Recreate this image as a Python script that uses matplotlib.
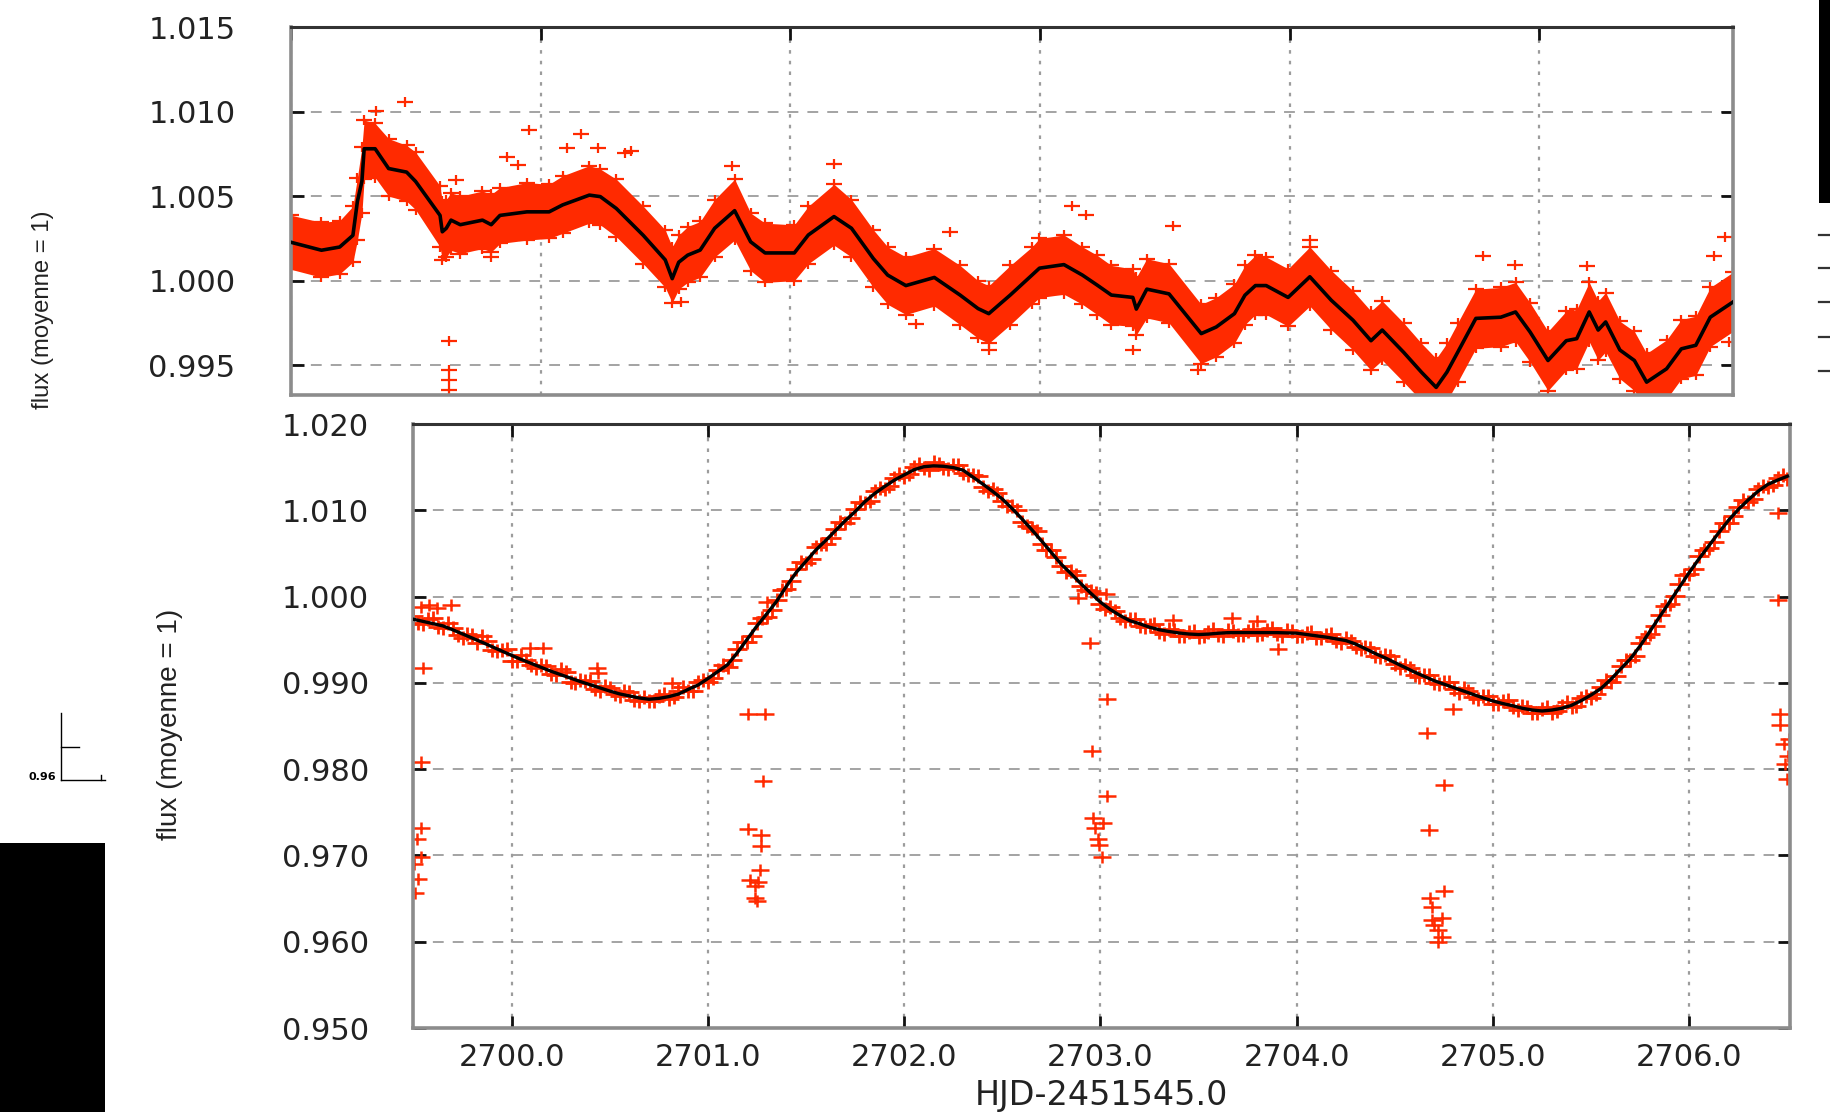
import numpy as np
import matplotlib
matplotlib.use("Agg")
import matplotlib.pyplot as plt
from matplotlib.path import Path
from matplotlib.patches import Rectangle
from matplotlib import font_manager

# ---------------- data: upper panel (long light curve) ----------------
top_t = [2640.00, 2641.22, 2641.95, 2642.48, 2642.66, 2642.84, 2642.93, 2643.37, 2643.91, 2644.63,
         2644.99, 2645.97, 2646.06, 2646.22, 2646.41, 2646.78, 2647.67, 2648.02, 2648.37, 2649.45,
         2650.34, 2650.88, 2651.95, 2652.39, 2653.03, 2654.11, 2654.99, 2655.27, 2655.53, 2655.89,
         2656.39, 2656.97, 2657.77, 2658.41, 2658.99, 2660.16, 2660.72, 2661.75, 2662.45, 2663.33,
         2663.90, 2664.63, 2665.77, 2666.80, 2667.52, 2667.95, 2668.81, 2669.68, 2669.98, 2670.96,
         2671.70, 2672.29, 2672.86, 2673.72, 2673.86, 2674.28, 2675.17, 2676.46, 2677.06, 2677.79,
         2678.21, 2678.63, 2679.06, 2679.94, 2680.81, 2681.67, 2682.54, 2683.26, 2683.71, 2684.57,
         2685.28, 2685.87, 2686.30, 2686.73, 2687.46, 2688.46, 2689.05, 2689.63, 2690.35, 2691.08,
         2691.50, 2692.00, 2692.36, 2692.66, 2693.23, 2693.81, 2694.30, 2695.10, 2695.69, 2696.27,
         2696.85, 2697.76]
top_curve = [1.00227, 1.00180, 1.00199, 1.00268, 1.00469, 1.00587, 1.00780, 1.00780, 1.00663, 1.00642,
             1.00587, 1.00386, 1.00289, 1.00310, 1.00358, 1.00331, 1.00358, 1.00331, 1.00386, 1.00407,
             1.00407, 1.00448, 1.00506, 1.00497, 1.00427, 1.00268, 1.00123, 1.00012, 1.00109, 1.00151,
             1.00181, 1.00310, 1.00414, 1.00230, 1.00164, 1.00164, 1.00270, 1.00379, 1.00310, 1.00130,
             1.00033, 0.99971, 1.00019, 0.99915, 0.99835, 0.99805, 0.99915, 1.00033, 1.00074, 1.00095,
             1.00033, 0.99974, 0.99915, 0.99901, 0.99832, 0.99950, 0.99922, 0.99687, 0.99726, 0.99805,
             0.99914, 0.99971, 0.99971, 0.99901, 1.00023, 0.99884, 0.99766, 0.99645, 0.99708, 0.99576,
             0.99459, 0.99369, 0.99459, 0.99576, 0.99777, 0.99784, 0.99815, 0.99697, 0.99528, 0.99645,
             0.99657, 0.99815, 0.99708, 0.99756, 0.99590, 0.99528, 0.99400, 0.99479, 0.99597, 0.99618,
             0.99784, 0.99874]
top_hi = [1.00387, 1.00345, 1.00355, 1.00440, 1.00610, 1.00790, 1.00950, 1.00930, 1.00840, 1.00800,
          1.00760, 1.00560, 1.00470, 1.00480, 1.00520, 1.00500, 1.00530, 1.00510, 1.00550, 1.00580,
          1.00570, 1.00620, 1.00680, 1.00660, 1.00600, 1.00440, 1.00300, 1.00200, 1.00270, 1.00320,
          1.00350, 1.00480, 1.00600, 1.00400, 1.00340, 1.00330, 1.00440, 1.00570, 1.00480, 1.00300,
          1.00200, 1.00140, 1.00190, 1.00090, 1.00000, 0.99970, 1.00090, 1.00200, 1.00250, 1.00270,
          1.00200, 1.00150, 1.00090, 1.00070, 1.00020, 1.00130, 1.00100, 0.99860, 0.99900, 0.99980,
          1.00090, 1.00150, 1.00140, 1.00070, 1.00200, 1.00060, 0.99940, 0.99820, 0.99880, 0.99750,
          0.99630, 0.99540, 0.99630, 0.99750, 0.99950, 0.99960, 0.99990, 0.99870, 0.99700, 0.99820,
          0.99830, 0.99990, 0.99880, 0.99930, 0.99760, 0.99700, 0.99570, 0.99650, 0.99770, 0.99790,
          0.99960, 1.00050]
top_lo = [1.00067, 1.00020, 1.00040, 1.00110, 1.00240, 1.00400, 1.00600, 1.00610, 1.00500, 1.00470,
          1.00420, 1.00200, 1.00120, 1.00140, 1.00180, 1.00160, 1.00190, 1.00170, 1.00220, 1.00240,
          1.00250, 1.00280, 1.00340, 1.00330, 1.00260, 1.00100, 0.99960, 0.99870, 0.99950, 0.99990,
          1.00020, 1.00140, 1.00240, 1.00060, 0.99990, 1.00000, 1.00100, 1.00210, 1.00140, 0.99960,
          0.99860, 0.99800, 0.99850, 0.99740, 0.99660, 0.99630, 0.99740, 0.99860, 0.99900, 0.99920,
          0.99860, 0.99800, 0.99740, 0.99730, 0.99680, 0.99780, 0.99750, 0.99510, 0.99550, 0.99630,
          0.99740, 0.99800, 0.99800, 0.99730, 0.99850, 0.99710, 0.99590, 0.99470, 0.99530, 0.99400,
          0.99290, 0.99200, 0.99290, 0.99400, 0.99600, 0.99610, 0.99640, 0.99520, 0.99350, 0.99470,
          0.99480, 0.99640, 0.99530, 0.99580, 0.99420, 0.99350, 0.99230, 0.99300, 0.99420, 0.99440,
          0.99610, 0.99700]
top_out_t = [2646.31, 2646.31, 2646.31, 2646.31, 2644.58, 2643.41, 2649.54, 2651.60, 2652.30, 2653.61,
             2657.68, 2661.75, 2671.29, 2671.85, 2675.31, 2666.38, 2665.02, 2676.34, 2673.72, 2687.76,
             2689.02, 2691.92, 2697.44, 2697.00, 2680.81, 2655.62, 2697.58, 2667.95, 2648.65, 2649.10,
             2651.06, 2653.38, 2646.60, 2648.02]
top_out_f = [0.99645, 0.99473, 0.99410, 0.99355, 1.01057, 1.01002, 1.00891, 1.00870, 1.00787, 1.00766,
             1.00677, 1.00690, 1.00441, 1.00386, 1.00324, 1.00289, 0.99742, 0.99472, 0.99590, 1.00144,
             1.00095, 1.00088, 1.00261, 1.00144, 1.00241, 0.99874, 0.99639, 0.99590, 1.00734, 1.00684,
             1.00783, 1.00753, 1.00596, 1.00141]
top_yticks = [0.995, 1.000, 1.005, 1.010, 1.015]
top_xticks = [2640, 2650, 2660, 2670, 2680, 2690]

# ---------------- data: lower panel (zoom on 2699.5 - 2706.5) ----------------
lo_t = np.round(np.arange(2699.50, 2706.501, 0.05), 3)
lo_t2 = np.round(np.arange(2699.525, 2706.49, 0.05), 3)
lo_curve = [0.99737, 0.99712, 0.99686, 0.99660, 0.99615, 0.99567, 0.99519, 0.99470, 0.99419, 0.99369,
            0.99318, 0.99270, 0.99225, 0.99180, 0.99135, 0.99095, 0.99055, 0.99015, 0.98978, 0.98942,
            0.98905, 0.98872, 0.98848, 0.98825, 0.98810, 0.98820, 0.98840, 0.98870, 0.98925, 0.98975,
            0.99050, 0.99130, 0.99210, 0.99350, 0.99505, 0.99660, 0.99800, 0.99945, 1.00120, 1.00280,
            1.00410, 1.00540, 1.00650, 1.00765, 1.00880, 1.00985, 1.01100, 1.01195, 1.01275, 1.01350,
            1.01410, 1.01470, 1.01505, 1.01515, 1.01510, 1.01495, 1.01465, 1.01385, 1.01305, 1.01220,
            1.01130, 1.01020, 1.00900, 1.00775, 1.00645, 1.00510, 1.00375, 1.00265, 1.00150, 1.00040,
            0.99935, 0.99850, 0.99780, 0.99720, 0.99685, 0.99645, 0.99615, 0.99595, 0.99578, 0.99566,
            0.99560, 0.99565, 0.99575, 0.99582, 0.99583, 0.99583, 0.99583, 0.99583, 0.99582, 0.99579,
            0.99576, 0.99560, 0.99545, 0.99530, 0.99510, 0.99490, 0.99450, 0.99395, 0.99340, 0.99290,
            0.99235, 0.99180, 0.99125, 0.99075, 0.99025, 0.98985, 0.98945, 0.98905, 0.98865, 0.98825,
            0.98790, 0.98760, 0.98735, 0.98705, 0.98685, 0.98674, 0.98685, 0.98705, 0.98740, 0.98795,
            0.98860, 0.98935, 0.99040, 0.99160, 0.99280, 0.99430, 0.99600, 0.99770, 0.99940, 1.00110,
            1.00280, 1.00440, 1.00590, 1.00740, 1.00885, 1.01010, 1.01120, 1.01220, 1.01300, 1.01350,
            1.01395]
lo_red = [0.99777, 0.99682, 0.99746, 0.99640, 0.99635, 0.99517, 0.99549, 0.99540, 0.99379, 0.99379,
          0.99258, 0.99320, 0.99205, 0.99210, 0.99105, 0.99155, 0.99005, 0.99035, 0.99018, 0.98902,
          0.98935, 0.98842, 0.98898, 0.98785, 0.98790, 0.98850, 0.98810, 0.98910, 0.98905, 0.99005,
          0.99010, 0.99150, 0.99180, 0.99390, 0.99475, 0.99690, 0.99760, 0.99965, 1.00090, 1.00320,
          1.00390, 1.00570, 1.00610, 1.00785, 1.00850, 1.01015, 1.01080, 1.01225, 1.01245, 1.01370,
          1.01390, 1.01500, 1.01485, 1.01555, 1.01490, 1.01525, 1.01435, 1.01405, 1.01275, 1.01250,
          1.01110, 1.01050, 1.00870, 1.00795, 1.00615, 1.00540, 1.00355, 1.00295, 1.00120, 1.00060,
          0.99915, 0.99880, 0.99750, 0.99740, 0.99655, 0.99675, 0.99595, 0.99625, 0.99548, 0.99586,
          0.99530, 0.99595, 0.99555, 0.99612, 0.99553, 0.99603, 0.99553, 0.99613, 0.99562, 0.99609,
          0.99546, 0.99580, 0.99515, 0.99560, 0.99490, 0.99520, 0.99420, 0.99415, 0.99310, 0.99320,
          0.99215, 0.99210, 0.99095, 0.99095, 0.98995, 0.99015, 0.98925, 0.98935, 0.98835, 0.98845,
          0.98760, 0.98790, 0.98715, 0.98735, 0.98655, 0.98694, 0.98655, 0.98735, 0.98720, 0.98825,
          0.98830, 0.98955, 0.99010, 0.99190, 0.99260, 0.99460, 0.99570, 0.99790, 0.99910, 1.00140,
          1.00260, 1.00470, 1.00560, 1.00760, 1.00855, 1.01040, 1.01100, 1.01250, 1.01270, 1.01370,
          1.01365]
lo_red2 = [0.99695, 0.99739, 0.99653, 0.99688, 0.99551, 0.99563, 0.99465, 0.99485, 0.99374, 0.99394,
           0.99254, 0.99268, 0.99173, 0.99198, 0.99095, 0.99125, 0.98995, 0.99017, 0.98930, 0.98964,
           0.98869, 0.98910, 0.98797, 0.98838, 0.98785, 0.98870, 0.98835, 0.98948, 0.98910, 0.99033,
           0.99060, 0.99210, 0.99260, 0.99478, 0.99543, 0.99750, 0.99843, 1.00073, 1.00180, 1.00395,
           1.00435, 1.00615, 1.00678, 1.00863, 1.00913, 1.01093, 1.01108, 1.01255, 1.01283, 1.01420,
           1.01420, 1.01538, 1.01470, 1.01533, 1.01473, 1.01520, 1.01405, 1.01395, 1.01223, 1.01195,
           1.01045, 1.01000, 1.00818, 1.00760, 1.00538, 1.00463, 1.00290, 1.00248, 1.00075, 1.00038,
           0.99853, 0.99835, 0.99720, 0.99743, 0.99645, 0.99680, 0.99565, 0.99607, 0.99542, 0.99603,
           0.99543, 0.99620, 0.99539, 0.99603, 0.99553, 0.99623, 0.99563, 0.99633, 0.99541, 0.99598,
           0.99538, 0.99593, 0.99518, 0.99570, 0.99460, 0.99490, 0.99393, 0.99408, 0.99295, 0.99313,
           0.99168, 0.99173, 0.99070, 0.99090, 0.98985, 0.99015, 0.98885, 0.98905, 0.98815, 0.98848,
           0.98755, 0.98798, 0.98680, 0.98715, 0.98650, 0.98720, 0.98675, 0.98773, 0.98728, 0.98848,
           0.98868, 0.99028, 0.99080, 0.99270, 0.99315, 0.99535, 0.99655, 0.99895, 1.00005, 1.00245,
           1.00320, 1.00535, 1.00635, 1.00853, 1.00928, 1.01115, 1.01130, 1.01280, 1.01295, 1.01413]
lo_out_t = [2699.54, 2699.58, 2699.62, 2699.69, 2699.55, 2699.536, 2699.536, 2699.519, 2699.536, 2699.505,
            2699.525, 2699.508, 2700.093, 2700.16, 2700.433, 2700.44, 2700.815, 2701.205, 2701.29, 2701.282,
            2701.205, 2701.273, 2701.273, 2701.265, 2701.214, 2701.256, 2701.24, 2701.239, 2701.248, 2701.30,
            2702.886, 2703.029, 2702.946, 2703.031, 2702.955, 2703.031, 2702.963, 2703.014, 2702.972, 2702.989,
            2702.99, 2703.006, 2703.37, 2703.668, 2703.796, 2703.906, 2704.797, 2704.665, 2704.75, 2704.674,
            2704.75, 2704.679, 2704.691, 2704.69, 2704.74, 2704.70, 2704.72, 2704.74, 2704.72, 2706.451,
            2706.451, 2706.46, 2706.46, 2706.51, 2706.48, 2706.505, 2706.49, 2706.50]
lo_out_f = [0.99880, 0.99905, 0.99870, 0.99900, 0.99177, 0.98077, 0.97323, 0.97196, 0.96976, 0.96906,
            0.96724, 0.96570, 0.99409, 0.99409, 0.99170, 0.99120, 0.98995, 0.98636, 0.98637, 0.97863,
            0.97304, 0.97234, 0.97110, 0.96832, 0.96716, 0.96693, 0.96640, 0.96512, 0.96473, 0.99934,
            0.99988, 1.00027, 0.99467, 0.98818, 0.98211, 0.97683, 0.97439, 0.97373, 0.97315, 0.97196,
            0.97126, 0.96976, 0.99730, 0.99757, 0.99717, 0.99397, 0.98694, 0.98416, 0.97813, 0.97296,
            0.96585, 0.96512, 0.96408, 0.96253, 0.96280, 0.96191, 0.96133, 0.96049, 0.95998, 1.00965,
            0.99961, 0.98636, 0.98508, 0.98346, 0.98289, 0.98153, 0.98057, 0.97891]
lo_yticks = [0.950, 0.960, 0.970, 0.980, 0.990, 1.000, 1.010, 1.020]
lo_xticks = [2700, 2701, 2702, 2703, 2704, 2705, 2706]

ylabel_text = "flux (moyenne = 1)"
xlabel_text = "HJD-2451545.0"

# ---------------- styling ----------------
RED = "#ff2a00"
W, H = 1831, 1112
fig = plt.figure(figsize=(W / 100, H / 100), dpi=100)
fig.patch.set_facecolor("white")

names = {f.name for f in font_manager.fontManager.ttflist}
if "Liberation Sans Narrow" in names:
    lab_family, lab_scale = "Liberation Sans Narrow", 1.0
else:
    lab_family, lab_scale = "Liberation Sans", 0.82

plus = Path([(-1.0, 0.0), (1.0, 0.0), (0.0, -0.7), (0.0, 0.7)],
            [Path.MOVETO, Path.LINETO, Path.MOVETO, Path.LINETO])

TICKFONT = dict(family="DejaVu Sans", size=22)


def frame(ax):
    ax.set_axisbelow(True)
    ax.grid(axis="y", color="#9c9c9c", ls=(0, (6, 5)), lw=1.3)
    ax.grid(axis="x", color="#9c9c9c", ls=(0, (1.6, 3.2)), lw=1.6)
    for s in ("left", "bottom", "right"):
        ax.spines[s].set_color("#8c8c8c")
        ax.spines[s].set_linewidth(2.6)
    ax.spines["top"].set_color("#333333")
    ax.spines["top"].set_linewidth(2.2)
    ax.tick_params(direction="in", length=9, width=2, color="#111111",
                   top=True, right=True, labelcolor="#222222")
    for lab in ax.get_xticklabels() + ax.get_yticklabels():
        lab.set_fontfamily(TICKFONT["family"])
        lab.set_fontsize(TICKFONT["size"])


# decorations layer (pixel coordinates)
deco = fig.add_axes([0, 0, 1, 1])
deco.set_xlim(0, W)
deco.set_ylim(H, 0)
deco.axis("off")
deco.add_patch(Rectangle((0, 843), 105, H - 843, color="black", lw=0))
deco.add_patch(Rectangle((1819, 0), 12, 203, color="black", lw=0))
for yy in (235, 268, 302, 337, 371):
    deco.plot([1819, 1831], [yy, yy], color="#333333", lw=1.6)
deco.plot([61, 61], [713, 780], color="black", lw=1.0)
deco.plot([61, 79], [747, 747], color="black", lw=1.0)
deco.plot([61, 105], [780, 780], color="black", lw=1.0)
deco.plot([101, 101], [780, 775], color="black", lw=1.0)
deco.text(56, 777, "0.96", ha="right", va="center", fontsize=8,
          fontweight="bold", family="DejaVu Sans")

# ---------------- upper panel ----------------
ax1 = fig.add_axes([291 / W, 1 - 395 / H, (1733 - 291) / W, (395 - 27) / H])
ax1.fill_between(top_t, top_lo, top_hi, color=RED, lw=0, zorder=2)
ax1.plot(top_t, top_hi, ls="none", marker=plus, ms=11, mew=1.6, color=RED, zorder=2)
ax1.plot(top_t, top_lo, ls="none", marker=plus, ms=11, mew=1.6, color=RED, zorder=2)
ax1.plot(top_out_t, top_out_f, ls="none", marker=plus, ms=11, mew=1.6, color=RED, zorder=2)
ax1.plot(top_t, top_curve, color="black", lw=2.6, zorder=3)
ax1.set_xlim(2640, 2697.76)
ax1.set_ylim(0.99324, 1.015)
ax1.set_xticks(top_xticks)
ax1.set_yticks(top_yticks)
ax1.set_yticklabels(["%.3f" % v for v in top_yticks])
frame(ax1)
ax1.tick_params(bottom=False, labelbottom=False, pad=40)

# ---------------- lower panel ----------------
ax2 = fig.add_axes([413.3 / W, 1 - 1028 / H, (1790 - 413.3) / W, (1028 - 424) / H])
ax2.plot(lo_t, lo_red, ls="none", marker=plus, ms=14, mew=2.0, color=RED, zorder=2)
ax2.plot(lo_t2, lo_red2, ls="none", marker=plus, ms=14, mew=2.0, color=RED, zorder=2)
ax2.plot(lo_out_t, lo_out_f, ls="none", marker=plus, ms=13, mew=1.8, color=RED, zorder=2)
ax2.plot(lo_t, lo_curve, color="black", lw=2.4, zorder=3)
ax2.set_xlim(2699.499, 2706.513)
ax2.set_ylim(0.950, 1.020)
ax2.set_xticks(lo_xticks)
ax2.set_xticklabels(["%.1f" % v for v in lo_xticks])
ax2.set_yticks(lo_yticks)
ax2.set_yticklabels(["%.3f" % v for v in lo_yticks])
frame(ax2)
ax2.tick_params(axis="y", pad=32)
ax2.tick_params(axis="x", pad=11)

# axis titles
fig.text(43 / W, 1 - 310 / H, ylabel_text, rotation=90, ha="center", va="center",
         family=lab_family, fontsize=21 * lab_scale, color="#222222")
fig.text(170 / W, 1 - 724 / H, ylabel_text, rotation=90, ha="center", va="center",
         family=lab_family, fontsize=24.5 * lab_scale, color="#222222")
fig.text(1101 / W, 1 - 1096 / H, xlabel_text, ha="center", va="center",
         family="DejaVu Sans", fontsize=24, color="#222222")

fig.savefig("out.png", dpi=100, facecolor="white")
